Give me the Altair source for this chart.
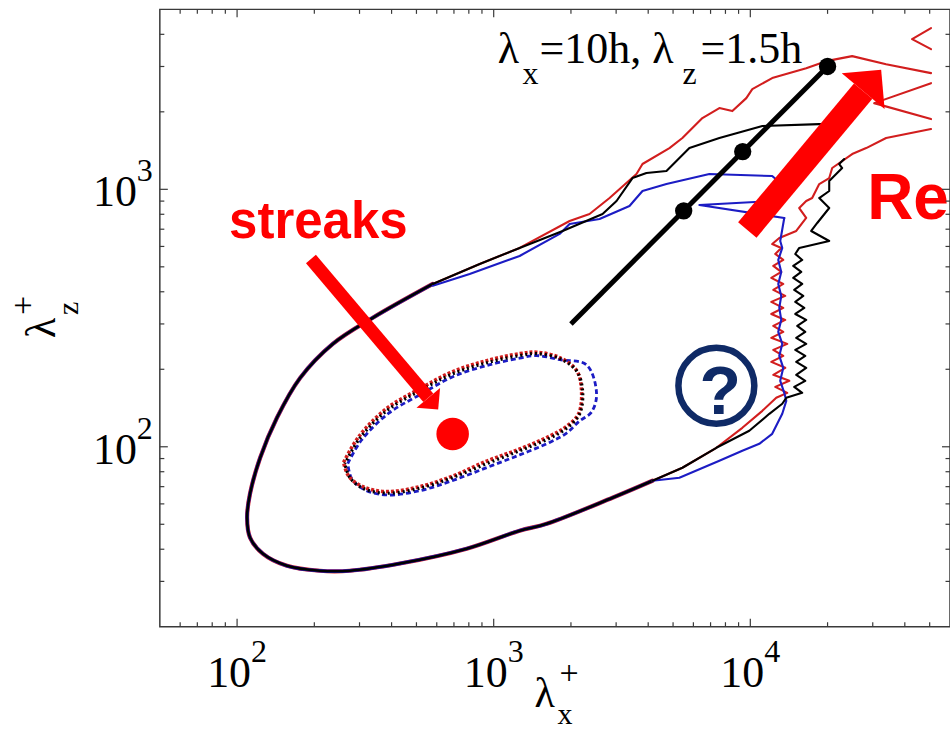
import altair as alt
import pandas as pd

# ---------------- data (lambda_x+, lambda_z+) ----------------
X_DOMAIN = [50, 60000]
Y_DOMAIN = [20, 5000]

# shared part of the outer contour (left tip and lower branch)
COMMON = [(579, 429), (338, 317), (236, 251), (176, 185), (143, 129.6), (123, 90.6), (112.3, 65.7),
          (109.4, 53.0), (112.3, 44.4), (126.2, 38.4), (156.5, 34.5), (210, 33.0), (275, 33.0),
          (431, 35.2), (785, 40.2), (1262, 47.2), (1608, 50.2), (2904, 63.4), (4157, 73.8)]

RED_TOP = [(50600, 2827), (33820, 3063), (24940, 3291), (19750, 3147), (16510, 2956),
           (12170, 2704), (10180, 2450), (9647, 2261), (8511, 2013), (7575, 2068), (6505, 1891),
           (5437, 1582), (4840, 1446), (3800, 1254), (3601, 1147), (2828, 925), (2363, 802),
           (1976, 753), (1262, 592), (882, 513), (579, 429)]
RED_RIGHT = [(4157, 73.8), (5437, 82.9), (7374, 99.1), (9310, 118.5), (11140, 137.9), (12620, 155),
             (13930, 162), (12510, 170.9), (14190, 180.4), (12290, 190.3), (13680, 202.6),
             (12070, 213.7), (13440, 225.5), (12290, 237.9), (13930, 251), (12070, 264.9),
             (13440, 279.5), (12290, 294.8), (13680, 311), (12070, 328), (13440, 346.3),
             (12070, 365.4), (13680, 385.5), (12290, 406.7), (13440, 429), (12070, 452.7),
             (13200, 477.6), (12290, 504), (13440, 531.7), (12510, 561), (13200, 592),
             (12170, 613), (12970, 647), (15100, 689), (16510, 774), (15510, 846), (16510, 901),
             (17420, 925), (18560, 1048), (20300, 1106), (20850, 1210), (24940, 1371),
             (28280, 1446), (33820, 1582), (50600, 1714)]
RED_SEG2 = [(50600, 2585), (30380, 2162), (50600, 1874)]
RED_SEG3 = [(50600, 4227), (42700, 3830), (50600, 3503)]

BLACK_TOP = [(21230, 1792), (18560, 1792), (11140, 1761), (7575, 1582), (5789, 1446),
             (4712, 1178), (3937, 1157), (3474, 1106), (3011, 901), (2656, 802), (1856, 689),
             (1262, 592), (882, 513), (579, 429)]
BLACK_RIGHT = [(4157, 73.8), (5437, 82.9), (7374, 99.1), (9910, 115.4), (11860, 134.3), (13320, 146.9),
               (13810, 155), (15930, 162), (14830, 170.9), (16370, 180.4), (15100, 190.3),
               (16510, 202.6), (15100, 213.7), (16370, 225.5), (14970, 237.9), (16510, 251),
               (15100, 264.9), (16370, 279.5), (15240, 294.8), (16510, 311), (14970, 328),
               (16230, 346.3), (14970, 365.4), (16080, 385.5), (14830, 406.7), (15930, 429),
               (14700, 452.7), (15790, 477.6), (14700, 504), (15930, 531.7), (14970, 561),
               (15510, 592), (20300, 630), (17270, 689), (18230, 740), (20300, 846),
               (18560, 925), (20300, 985), (20300, 1077), (22800, 1210), (22200, 1254),
               (23220, 1311)]

BLUE_TOP = [(13560, 774), (6332, 869), (12170, 901), (13930, 1003), (12170, 1126),
            (6925, 1147), (4712, 1048), (3800, 985), (3382, 861), (2585, 767), (1976, 733),
            (1807, 671), (1262, 551), (806, 469), (579, 422)]
BLUE_RIGHT = [(4157, 73.8), (5292, 75.8), (7575, 88.2), (9310, 96.5), (10840, 102.7), (12170, 112.3),
              (13320, 134.3), (13810, 150.8), (13560, 162), (13080, 180.4), (13440, 202.6),
              (12970, 225.5), (13320, 251), (12850, 279.5), (13200, 311), (12970, 346.3),
              (13200, 385.5), (12850, 429), (13200, 477.6), (12850, 531.7), (13320, 592),
              (13080, 630), (13560, 774)]

INNER_BLACK = [(263, 86), (301, 108), (383, 138), (515, 165), (693, 192), (939, 212),
               (1262, 226), (1470, 230), (1807, 220), (2104, 197), (2220, 165), (2161, 134),
               (1923, 118), (1652, 108), (1262, 96.5), (939, 86), (693, 76), (515, 69),
               (383, 66), (309, 69), (275, 76), (263, 86)]
INNER_RED = [(260, 87), (299, 110), (383, 141), (515, 168), (693, 196), (939, 216),
             (1262, 230), (1470, 233), (1807, 222), (2104, 198), (2200, 165), (2140, 134),
             (1900, 119), (1652, 110), (1262, 98), (939, 88), (693, 77), (515, 70), (383, 67),
             (309, 70), (272, 77), (260, 87)]
INNER_BLUE = [(270, 86), (305, 106), (390, 135), (520, 160), (700, 188), (960, 208),
              (1262, 221), (1470, 226), (1807, 218), (2301, 208), (2517, 160), (2400, 136),
              (2161, 126), (1923, 113), (1652, 104), (1262, 93), (939, 83), (693, 74),
              (515, 67.5), (383, 65), (315, 68), (280, 75), (270, 86)]

# lambda_x = 10h, lambda_z = 1.5h line and the three Re_tau dots
SCALING_LINE = [(2000, 300), (20000, 3000)]
SCALING_DOTS = [(5500, 825), (9340, 1401), (20000, 3000)]

# annotations
STREAK_DOT = [(692, 112)]
STREAK_ARROW = [(194, 536), (556, 155)]
RE_ARROW = [(9734, 695), (27530, 2407)]
QMARK_CIRCLE = [(7374, 172.5)]
QMARK_TEXT = [(7643, 134.3)]
STREAKS_LABEL = [(93.1, 647)]
RE_LABEL = [(28530, 767)]
SCALING_LABEL = [(1036, 3090)]

X_MAJOR = [100, 1000, 10000]
X_MINOR = [60, 70, 80, 90, 200, 300, 400, 500, 600, 700, 800, 900,
           2000, 3000, 4000, 5000, 6000, 7000, 8000, 9000, 20000, 30000, 40000, 50000]
Y_MAJOR = [100, 1000]
Y_MINOR = [30, 40, 50, 60, 70, 80, 90, 200, 300, 400, 500, 600, 700, 800, 900,
           2000, 3000, 4000]
X_LABELS = ["2", "3", "4"]
Y_LABELS = ["2", "3"]

# ---------------- chart ----------------
W, H = 791, 618
RED_C = "#d21e1e"
BLUE_C = "#1c1cc4"
ANN_RED = "#ff0000"
NAVY = "#0f2a66"
FRAME = "#3a3a3a"
SERIF = "Liberation Serif"
SANS = "Liberation Sans"

xs = alt.X("lx:Q", scale=alt.Scale(type="log", domain=X_DOMAIN, nice=False), axis=None)
ys = alt.Y("lz:Q", scale=alt.Scale(type="log", domain=Y_DOMAIN, nice=False), axis=None)


def pts(points, seg=0):
    return pd.DataFrame({"lx": [p[0] for p in points], "lz": [p[1] for p in points],
                         "seg": seg, "ord": list(range(len(points)))})


def paths(*segments):
    return pd.concat([pts(s, i) for i, s in enumerate(segments)], ignore_index=True)


def line_layer(df, color, width, dash=None, interp="linear", dash_offset=None):
    kw = dict(color=color, strokeWidth=width, strokeJoin="round",
              strokeCap="butt" if dash else "round", clip=True, interpolate=interp)
    if dash:
        kw["strokeDash"] = dash
    if dash_offset:
        kw["strokeDashOffset"] = dash_offset
    return alt.Chart(df).mark_line(**kw).encode(x=xs, y=ys, detail="seg:N", order="ord:Q")


layers = [
    # shared, nearly coincident part: coloured fringes under the black line
    line_layer(pts(COMMON), RED_C, 4.2, interp="catmull-rom"),
    line_layer(pts(COMMON), BLUE_C, 3.4, interp="catmull-rom"),
    line_layer(pts(COMMON), "black", 2.6, interp="catmull-rom"),
    # separated parts
    line_layer(paths(RED_TOP, RED_RIGHT, RED_SEG2, RED_SEG3), RED_C, 2.1),
    line_layer(paths(BLUE_TOP, BLUE_RIGHT), BLUE_C, 2.1),
    line_layer(paths(BLACK_TOP, BLACK_RIGHT), "black", 2.1),
    # inner (dashed / dotted) contours
    line_layer(pts(INNER_BLUE), BLUE_C, 2.8, [5, 3], "catmull-rom"),
    line_layer(pts(INNER_RED), RED_C, 3.6, [3, 2], "catmull-rom"),
    line_layer(pts(INNER_BLACK), "black", 3.2, [2, 3], "catmull-rom", 1),
]

# scaling line + dots
layers.append(alt.Chart(pts(SCALING_LINE)).mark_line(color="black", strokeWidth=5)
              .encode(x=xs, y=ys, order="ord:Q"))
layers.append(alt.Chart(pts(SCALING_DOTS)).mark_circle(color="black", size=300, opacity=1)
              .encode(x=xs, y=ys))

# streaks arrow + dot
HEAD = "M0,-1L1,0L-1,0Z"
layers.append(alt.Chart(pts(STREAK_ARROW)).mark_line(color=ANN_RED, strokeWidth=13, strokeCap="butt")
              .encode(x=xs, y=ys, order="ord:Q"))
layers.append(alt.Chart(pts(STREAK_ARROW[1:])).mark_point(shape=HEAD, filled=True, size=950,
              angle=140, color=ANN_RED, opacity=1, strokeWidth=0).encode(x=xs, y=ys))
layers.append(alt.Chart(pts(STREAK_DOT)).mark_circle(color=ANN_RED, size=1060, opacity=1)
              .encode(x=xs, y=ys))

# Re arrow
layers.append(alt.Chart(pts(RE_ARROW)).mark_line(color=ANN_RED, strokeWidth=24, strokeCap="butt")
              .encode(x=xs, y=ys, order="ord:Q"))
layers.append(alt.Chart(pts(RE_ARROW[1:])).mark_point(shape=HEAD, filled=True, size=3136,
              angle=40, color=ANN_RED, opacity=1, strokeWidth=0).encode(x=xs, y=ys))

# question mark
layers.append(alt.Chart(pts(QMARK_CIRCLE)).mark_point(shape="circle", filled=False, size=5776,
              strokeWidth=6.5, color=NAVY, opacity=1).encode(x=xs, y=ys))
layers.append(alt.Chart(pts(QMARK_TEXT)).mark_text(text="?", font=SANS, fontWeight="bold",
              fontSize=68, color=NAVY, align="center", baseline="alphabetic").encode(x=xs, y=ys))

# labels
layers.append(alt.Chart(pts(STREAKS_LABEL)).mark_text(text="streaks", font=SANS, fontWeight="bold",
              fontSize=51, color=ANN_RED, align="left", baseline="alphabetic").encode(x=xs, y=ys))
layers.append(alt.Chart(pts(RE_LABEL)).mark_text(text="Re", font=SANS, fontWeight="bold",
              fontSize=64, color=ANN_RED, align="left", baseline="alphabetic").encode(x=xs, y=ys))

for txt, dx, dy, fs in [("λ", 0, 0, 44), ("x", 25, 21, 32), ("=10h, λ", 42, 0, 44),
                        ("z", 185, 21, 32), ("=1.5h", 203, 0, 44)]:
    layers.append(alt.Chart(pts(SCALING_LABEL)).mark_text(text=txt, font=SERIF, fontSize=fs,
                  color="black", align="left", baseline="alphabetic", dx=dx, dy=dy)
                  .encode(x=xs, y=ys))

# inward ticks on all four sides
TICK = dict(color=FRAME, strokeWidth=1.2)
for vals, L in [(X_MAJOR, 8), (X_MINOR, 4.5)]:
    d = pd.DataFrame({"lx": vals})
    layers.append(alt.Chart(d).mark_rule(**TICK).encode(x=xs, y=alt.value(H), y2=alt.value(H - L)))
    layers.append(alt.Chart(d).mark_rule(**TICK).encode(x=xs, y=alt.value(0), y2=alt.value(L)))
for vals, L in [(Y_MAJOR, 8), (Y_MINOR, 4.5)]:
    d = pd.DataFrame({"lz": vals})
    layers.append(alt.Chart(d).mark_rule(**TICK).encode(y=ys, x=alt.value(0), x2=alt.value(L)))
    layers.append(alt.Chart(d).mark_rule(**TICK).encode(y=ys, x=alt.value(W), x2=alt.value(W - L)))

# tick labels 10^n
xl = pd.DataFrame({"lx": X_MAJOR, "e": X_LABELS})
layers.append(alt.Chart(xl).mark_text(text="10", font=SERIF, fontSize=44, align="right", dx=14,
              baseline="alphabetic", color="black").encode(x=xs, y=alt.value(678)))
layers.append(alt.Chart(xl).mark_text(font=SERIF, fontSize=32, align="left", dx=14,
              baseline="alphabetic", color="black").encode(x=xs, y=alt.value(653), text="e:N"))
yl = pd.DataFrame({"lz": Y_MAJOR, "e": Y_LABELS})
layers.append(alt.Chart(yl).mark_text(text="10", font=SERIF, fontSize=44, align="right", dy=17,
              baseline="alphabetic", color="black").encode(y=ys, x=alt.value(-23)))
layers.append(alt.Chart(yl).mark_text(font=SERIF, fontSize=32, align="left", dy=-8,
              baseline="alphabetic", color="black").encode(y=ys, x=alt.value(-23), text="e:N"))

# axis titles
one = pd.DataFrame({"a": [0]})
for txt, x, y, fs, ang in [("λ", 375, 698, 42, 0), ("+", 400, 675, 34, 0), ("x", 398, 715, 30, 0),
                           ("λ", -105, 329, 42, 270), ("+", -126, 306, 34, 270),
                           ("z", -82, 306, 30, 270)]:
    kw = dict(text=txt, font=SERIF, fontSize=fs, align="left", baseline="alphabetic", color="black")
    if ang:
        kw["angle"] = ang
    layers.append(alt.Chart(one).mark_text(**kw).encode(x=alt.value(x), y=alt.value(y)))

chart = (alt.layer(*layers)
         .properties(width=W, height=H, autosize=alt.AutoSizeParams(type="none"),
                     padding={"left": 160, "top": 9, "right": 0, "bottom": 104},
                     background="white")
         .configure_view(stroke=FRAME, strokeWidth=1.5))

chart.save("out.html", embed_options={"renderer": "svg", "actions": False})
